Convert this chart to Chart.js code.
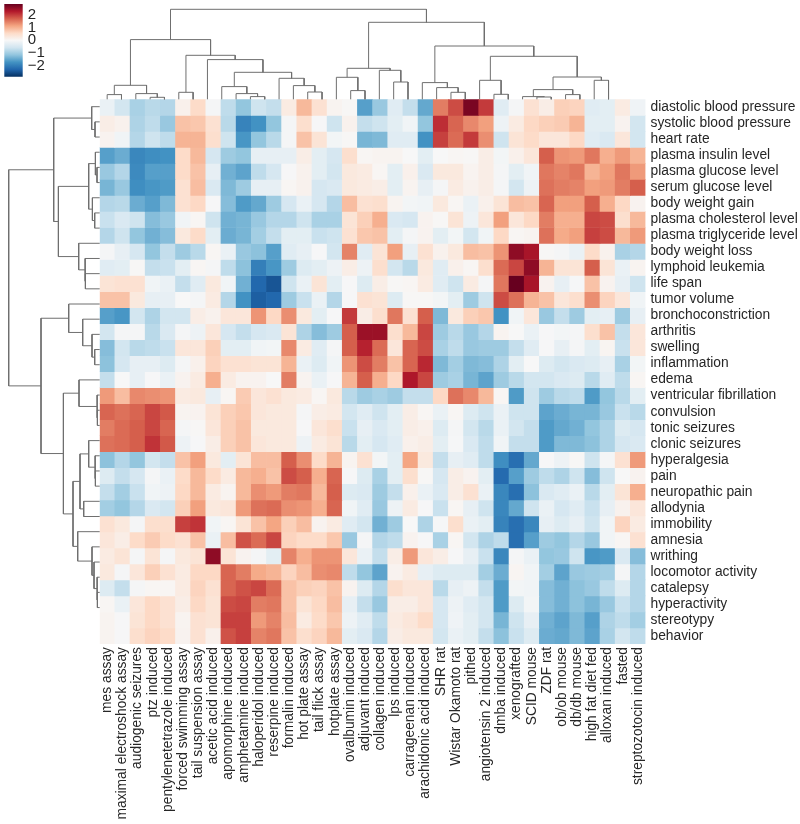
<!DOCTYPE html>
<html lang="en">
<head>
  <meta charset="UTF-8" />
  <title>Clustermap</title>
  <script src="https://cdn.jsdelivr.net/npm/chart.js"></script>
  <style>
    html, body { margin: 0; background: #fff; }
    #wrap { position: relative; width: 800px; height: 824px; overflow: hidden; }
    canvas { position: absolute; left: 0; top: 0; }
  </style>
</head>
<body>
  <div id="wrap">
    <canvas id="heat" width="800" height="824"></canvas>
    <canvas id="topTree" width="800" height="100"></canvas>
    <canvas id="leftTree" width="100" height="824"></canvas>
    <canvas id="colorbar" width="70" height="90"></canvas>
  </div>

  <script>
    const colLabels = ['mes assay', 'maximal electroshock assay', 'audiogenic seizures', 'ptz induced', 'pentylenetetrazole induced', 'forced swimming assay', 'tail suspension assay', 'acetic acid induced', 'apomorphine induced', 'amphetamine induced', 'haloperidol induced', 'reserpine induced', 'formalin induced', 'hot plate assay', 'tail flick assay', 'hotplate assay', 'ovalbumin induced', 'adjuvant induced', 'collagen induced', 'lps induced', 'carrageenan induced', 'arachidonic acid induced', 'SHR rat', 'Wistar Okamoto rat', 'pithed', 'angiotensin 2 induced', 'dmba induced', 'xenografted', 'SCID mouse', 'ZDF rat', 'ob/ob mouse', 'db/db mouse', 'high fat diet fed', 'alloxan induced', 'fasted', 'streptozotocin induced'];

    const rowLabels = ['diastolic blood pressure', 'systolic blood pressure', 'heart rate', 'plasma insulin level', 'plasma glucose level', 'serum glucose level', 'body weight gain', 'plasma cholesterol level', 'plasma triglyceride level', 'body weight loss', 'lymphoid leukemia', 'life span', 'tumor volume', 'bronchoconstriction', 'arthritis', 'swelling', 'inflammation', 'edema', 'ventricular fibrillation', 'convulsion', 'tonic seizures', 'clonic seizures', 'hyperalgesia', 'pain', 'neuropathic pain', 'allodynia', 'immobility', 'amnesia', 'writhing', 'locomotor activity', 'catalepsy', 'hyperactivity', 'stereotypy', 'behavior'];

    const colorbarTicks = [2, 1, 0, -1, -2];
    const colorLimit = 2.9;

    // one line per row
    const cellValues = [
      [-.2,-.55,-.95,-.8,-.85,.15,.55,-.05,-.75,-1.15,-.6,-.7, .25,.95,.45,.08,.02,-1.6,-1.1,-.35,-.7,-1.5,1.5,1.9, 2.75,2.05,-.35,-.05,.45,.2,.7,.65,-.35,-.3,.25,-.12],
      [.2,.12,-.9,-.75,-1.1,.85,.8,.45,-.8,-1.95,-1.75,-1.15, -.05,.5,-.02,-.6,.12,-.7,-.6,-.3,-.1,-1.15,2.15,1.7, 1.4,1.2,-.15,.25,.6,.7,.75,1,-.3,-.3,.1,-.55],
      [.1,-.1,-.85,-.6,-.75,1,1,.5,-.6,-1.7,-1.15,-.8, -.05,.85,.4,-.08,.03,-1.35,-1.3,-.35,-.35,-1.75,2,1.65, 2.05,1.35,-.6,.4,.55,.35,.35,.6,-.35,-.45,.35,-.55],
      [-1.6,-1.45,-1.9,-1.8,-1.75,.55,.95,-.5,-1.05,-1.15,-.25,-.25, -.25,.2,-.3,-.5,.5,.05,.08,.08,0,-.3,0,.05, .03,.2,-.08,.15,.35,1.75,1.3,1.25,1.55,1.05,1.25,1],
      [-1.1,-.85,-1.85,-1.6,-1.6,.55,.85,-.25,-1.4,-1.55,-.75,-.5, -.02,.12,-.3,-.55,.3,.25,.05,-.3,.15,-.45,.3,.3, .08,.2,-.05,-.3,-.1,1.55,1.45,1.55,1,1.2,1.55,1.25],
      [-1.35,-1.1,-1.8,-1.7,-1.65,.45,.9,-.45,-1.3,-1.05,-.25,-.25, .05,.12,-.5,-.45,.3,.25,.2,-.3,.08,-.25,-.05,.25, .12,.2,-.05,-.55,-.15,1.6,1.5,1.45,1.2,1.25,1.5,1.75],
      [-.85,-.8,-1.45,-1.6,-1.3,.45,.6,-.02,-1.25,-1.65,-1.5,-1.05, -.5,-.2,-.5,-.85,.9,.45,.5,.08,-.08,-.1,.3,.05, -.2,.15,.4,.9,.85,1.7,1.2,1.2,1.75,1.05,.6,.1],
      [-.65,-.45,-.6,-1.25,-1.1,-.1,.05,-.6,-1.4,-1.35,-1.1,-.85, -.85,-.6,-.95,-.95,.4,.7,1.05,-.45,-.5,.1,.03,.4, -.15,.35,1.2,.35,.6,1.5,1.05,1.05,1.95,1.9,.5,.95],
      [-.85,-.6,-1.15,-1.4,-1.25,.3,.55,-.3,-1.45,-1.35,-1,-.7, -.3,-.3,-.65,-.6,.45,.8,.85,-.3,-.05,.1,-.3,-.08, -.55,-.1,.6,.05,.08,1.6,1.1,1.2,2,1.9,.95,1.25],
      [-.05,-.25,-.5,-1.15,-.7,-1.05,-.8,.05,-.2,-1.1,-1.2,-1.6, -.35,-.25,-.02,-.55,1.45,-.35,.4,1.2,-.25,.45,.12,.3, .9,.85,1.3,2.6,2.4,.02,-.05,-.2,.55,.12,-.95,-.85],
      [-.35,-.3,.02,-.7,-.65,-.3,.05,-.05,-.75,-1.2,-2,-1.7, -1.05,-.4,-.3,-.15,.2,-.15,.5,-.55,-.8,.3,-.35,.15, .05,.5,1.65,1.95,2.6,1,.4,.4,1.75,.4,-.2,.08],
      [.4,.45,.45,-.1,-.2,-.7,-.35,.3,-.1,-1.4,-2.3,-2.5, -.6,-.2,.4,-.3,-.02,-.4,.2,.02,.05,.25,-.35,-.6, .25,-.05,1.55,2.9,2.4,.1,-.25,-.03,.85,.1,-.25,-.6],
      [.85,.85,.3,-.25,-.25,0,-.05,.25,-.85,-1.75,-2.4,-2.3, -1.05,-.65,-.2,-.85,-.02,.45,.4,-.4,.02,.02,-.08,-.3, -1.05,-.6,1.9,1.6,1,.85,.35,.5,1.35,.65,.35,-.1],
      [-1.6,-1.7,-.55,-.9,-.55,-.55,.2,.12,.35,.35,1.3,.6, 1.35,.3,-.3,-.02,2.05,.2,.5,1.55,.45,1.75,-1.3,.3, .7,.8,-1.75,-.1,.35,-1.1,-.7,-1.05,-.3,-.25,-1.05,-.25],
      [-.55,-.05,-.05,-.8,-.45,-.05,-.15,.35,-.5,-.7,-.5,-.45, .4,-.9,-1.25,-1.05,1.75,2.5,2.5,.5,.95,1.95,-1.05,-.8, -1.1,-.85,.08,0,-.2,-.02,-.08,-.05,.5,.85,-.7,.35],
      [-1.25,-.55,-.8,-.75,-.65,.35,.35,.7,-.3,-.3,-.1,-.08, 1.4,.25,-.35,-.05,1.75,2.25,1.65,.35,1.7,1.9,-.95,-.75, -1.1,-1.05,-1.05,-.7,-.35,-.02,-.25,-.05,-.3,.07,-.65,.35],
      [-1.2,-.5,-.25,-.25,-.4,-.05,.15,.65,.45,.45,.4,.4, 1,-.2,-.4,-.1,1.3,1.9,1.5,.85,1.7,2.2,-1.3,-1, -1.3,-1.25,-.9,-.3,0,-.4,-.55,-.45,-.4,-.25,-.95,-.08],
      [-.7,0,-.25,-.02,-.2,.1,.25,1.05,.25,.1,.1,0, 1.5,.08,-.2,-.02,1,1.75,1.05,.6,2.35,1.95,-1.05,-.95, -1.35,-1.55,-1.05,-.8,-.55,-.55,-.45,-.4,-.8,-.35,-.75,.05],
      [1.25,.9,1.4,1.35,1.3,.25,.3,-.25,.05,.75,.35,.45, .3,.25,.05,.3,-.8,-1.05,-.95,-1.05,-.7,-.7,.6,1.6, 1.4,.95,.05,-1.65,-.6,-1.05,-.8,-.75,-1.65,-1.15,-.8,-.3],
      [1.7,1.6,1.7,1.95,1.8,.08,.1,.4,.7,.8,.35,.3, .3,-.05,.2,.25,-.55,-.35,-.6,-.3,.2,.05,-.2,.05, -.4,-.6,-.2,-.6,-.6,-1.55,-1.45,-1.35,-1.35,-1.1,-.65,-.8],
      [1.5,1.65,1.75,1.95,1.7,-.05,.02,.35,.7,.85,.3,.3, .3,-.02,.35,.5,-.65,-.25,-.45,-.3,.2,.15,-.4,-.05, -.55,-.8,-.2,-.55,-.7,-1.65,-1.5,-1.4,-1.15,-.9,-.4,-.5],
      [1.6,1.65,1.75,2.1,1.8,-.15,-.02,.2,.7,.85,.35,.3, .3,-.15,.25,.4,-.8,-.3,-.5,-.35,.15,.2,-.3,-.03, -.45,-.75,-.1,-.7,-.7,-1.65,-1.3,-1.3,-1.2,-.9,-.5,-.45],
      [-1.2,-.85,-1.15,-.55,-.7,.85,1.2,.3,-.3,.4,.9,.9, 1.75,1.35,.55,1,.08,.45,-.08,-.3,1.15,.3,-.7,-.25, -.35,-.75,-1.8,-2.2,-1.5,-.02,-.15,.02,-.6,-.05,.45,1.25],
      [-.4,-.7,-.5,-.05,-.2,.55,.95,.55,.25,.95,1.05,.85, 1.9,1.75,1.05,1.7,-.02,-.4,-.95,-.3,.5,.02,-.5,.2, .1,-.3,-2.25,-1.6,-1.05,-.75,-.9,-.6,-1.25,-.6,0,.1],
      [-.7,-1,-.65,-.1,-.15,.6,.95,.25,.08,.95,1.35,1.25, 1.5,1.55,.95,1.75,-.4,-.45,-1.05,-.7,.15,-.2,-.45,.2, .45,-.2,-1.9,-2.2,-1.2,-.45,-.35,-.2,-.8,-.3,.4,1.05],
      [-1,-1.15,-.85,-.45,-.55,.7,1.2,.3,.35,1.25,1.6,1.65, 1.35,1.3,1.05,1.7,-.1,-.35,-1.1,-.15,.25,-.02,-.65,.05, -.25,-.6,-1.9,-1.5,-.6,-.2,-.5,-.35,-.65,-.25,.12,.35],
      [.45,.3,-.05,.5,.5,2,2.1,-.1,.05,.4,.85,1.15, .7,.9,.1,.25,-.35,-.55,-1.4,-1.05,0,-.9,-.03,.5, -.2,-.3,-1.95,-2.2,-1.9,-.25,-.4,-.25,-.6,-.1,.65,.25],
      [.35,.2,.55,.75,.55,.45,.85,-.2,.9,1.85,1.65,1.95, .65,.55,.55,.8,-1.1,-.05,-.85,-.75,.1,-.02,-.95,.05, -.55,-.9,-.75,-2.2,-1.6,-1.05,-1.15,-.85,-1.1,-.1,.05,.45],
      [.25,.4,-.05,.4,-.05,.3,.4,2.6,.4,.1,-.05,-.3, 1.45,1.05,1.3,1.3,.35,-.2,-.7,.2,1.25,.35,.2,-.02, -.25,-.65,-1.9,-.05,-.2,-1.15,-1.1,-.6,-1.7,-1.65,-.45,-1.25],
      [.3,-.05,.35,.7,.45,.25,.6,.6,1.7,1.5,1.1,1, .65,.9,1.35,1.4,-.75,-1.15,-1.55,.1,.25,-.25,-.4,-.4, -.4,-1,-1.45,.06,-.1,-1,-1.55,-1.1,-1.05,-1,-.05,-.85],
      [-.4,-.7,-.05,.05,.05,.25,.65,.45,1.7,1.85,1.95,1.65, .85,.7,.65,.85,.1,-.4,-.85,.5,.35,.35,-.8,-.25, -.15,-.7,-1.65,-.08,-.1,-1.25,-1.4,-1.2,-1.1,-.75,-.4,-.85],
      [.05,-.2,.35,.6,.45,.2,.6,.4,1.9,1.95,1.5,1.55, .85,.4,.6,.9,-.25,-.7,-1.1,.2,.2,.35,-.5,-.15, -.35,-.55,-1.65,-.4,-.08,-1.25,-1.4,-1.2,-1.35,-1.1,-.65,-.85],
      [.08,-.02,.4,.6,.45,.08,.45,.4,2,2,1.25,1.45, .9,.25,.55,.8,-.15,-.35,-.75,.25,.35,.55,-.5,-.12, -.3,-.55,-1.35,-.6,-.25,-1.4,-1.55,-1.3,-1.6,-.9,-.75,-1],
      [.08,-.02,.5,.65,.55,.1,.45,.15,1.85,2,1.45,1.55, .85,.5,.65,.95,-.3,-.45,-.85,.2,.3,.3,-.55,-.2, -.3,-.7,-1.2,-.65,-.4,-1.45,-1.5,-1.3,-1.55,-.95,-.55,-.75]
    ];

    // dendrograms as nested [left, right, height]; a bare number is a leaf index
    const colTree = [
      [[[0, 1, 4.7], [2, [3, 4, 2], 5.7], 14],
       [[5, 6, 7],
        [7,
         [[8, [9, [10, 11, 2.7], 5.7], 12.7],
          [12, [13, [14, 15, 7.3], 13.7], 21], 27],
         39.7], 44], 59.7],
      [[[16, [17, 18, 8.7], 22], [19, [20, 21, 17.3], 29], 31],
       [[22, [23, [24, 25, 7], 11.7], 16.7],
        [[26, [27, 28, 5], 19],
         [[[29, [30, 31, 2.3], 2.7], [32, 33, 4.7], 9.7], [34, 35, 19], 22.3],
         43], 53.3],
       77],
      90
    ];

    const rowTree = [
      [[0, [1, 2, 4.7], 8],
       [[[3, [4, 5, 2.7], 4.3], [6, [7, 8, 5], 7.3], 11],
        [9, [10, [11, 12, 14.3], 14.7], 21], 41.3],
       46],
      [[13, [14, [15, [16, 17, 5], 7.7], 17], 31],
       [[18, [19, [20, 21, 2.3], 2.7], 20.7],
        [[[22, [23, [24, 25, 4.3], 4.7], 11], [26, 27, 16], 19.7],
         [28, [29, [30, [31, [32, 33, 2.3], 2.7], 5.7], 7.7], 22], 26.7],
        36.3],
       58.7],
      91
    ];

    // the trees stop short of the heatmap's far edge in the reference,
    // so their leaf axes run past the leaf count
    const colTreeSpan = 38.08;
    const rowTreeSpan = 35.9;

    // RdBu_r
    const palette = ['#053061', '#2166ac', '#4393c3', '#92c5de', '#d1e5f0', '#f7f7f7', '#fddbc7', '#f4a582', '#d6604d', '#b2182b', '#67001f'];

    function hexToRgb(h) {
      return [1, 3, 5].map(i => parseInt(h.slice(i, i + 2), 16));
    }

    function cellColor(v) {
      const t = Math.min(Math.max((v + colorLimit) / (2 * colorLimit), 0), 1) * (palette.length - 1);
      const i = Math.min(Math.floor(t), palette.length - 2);
      const a = hexToRgb(palette[i]), b = hexToRgb(palette[i + 1]);
      const c = a.map((x, k) => Math.round(x + (b[k] - x) * (t - i)));
      return `rgb(${c[0]},${c[1]},${c[2]})`;
    }

    const textColor = '#262626';
    const labelFont = { family: "'Liberation Sans', Arial, sans-serif", size: 13.8 };
    const treeColor = '#6f6f6f';

    // Heatmap: stacked unit bars, one dataset per row
    new Chart(document.getElementById('heat'), {
      type: 'bar',
      data: {
        labels: colLabels,
        datasets: rowLabels.map((name, r) => ({
          label: name,
          data: colLabels.map(() => 1),
          backgroundColor: cellValues[r].map(cellColor),
          barPercentage: 1,
          categoryPercentage: 1,
          borderWidth: 0
        }))
      },
      options: {
        responsive: false,
        animation: false,
        devicePixelRatio: 1,
        layout: { padding: { left: 99.7, top: 99.3, right: 0, bottom: 0 } },
        plugins: { legend: { display: false }, tooltip: { enabled: false } },
        scales: {
          x: {
            stacked: true,
            grid: { display: false, drawTicks: false },
            border: { display: false },
            ticks: { autoSkip: false, minRotation: 90, maxRotation: 90, padding: 3, color: textColor, font: labelFont },
            afterFit: s => { s.height = 180; }
          },
          y: { stacked: true, display: false, min: 0, max: rowLabels.length, reverse: true },
          rows: {
            type: 'category',
            labels: rowLabels,
            position: 'right',
            offset: true,
            grid: { display: false, drawTicks: false },
            border: { display: false },
            ticks: { autoSkip: false, padding: 5, color: textColor, font: labelFont },
            afterFit: s => { s.width = 154.5; }
          }
        }
      }
    });

    // Turn a nested tree into one 4-point polyline per merge
    function treeLinks(node, links) {
      if (typeof node === 'number') return { pos: node + 0.5, h: 0 };
      const l = treeLinks(node[0], links);
      const r = treeLinks(node[1], links);
      links.push([[l.pos, l.h], [l.pos, node[2]], [r.pos, node[2]], [r.pos, r.h]]);
      return { pos: (l.pos + r.pos) / 2, h: node[2] };
    }

    function treeDatasets(tree, toPoint) {
      const links = [];
      treeLinks(tree, links);
      return links.map(link => ({
        data: link.map(toPoint),
        showLine: true,
        pointRadius: 0,
        borderColor: treeColor,
        borderWidth: 1,
        tension: 0,
        clip: false
      }));
    }

    new Chart(document.getElementById('topTree'), {
      type: 'scatter',
      data: { datasets: treeDatasets(colTree, p => ({ x: p[0], y: p[1] })) },
      options: {
        responsive: false,
        animation: false,
        devicePixelRatio: 1,
        layout: { padding: { left: 100, right: 154.5, top: 0, bottom: 0.7 } },
        plugins: { legend: { display: false }, tooltip: { enabled: false } },
        scales: {
          x: { display: false, min: 0, max: colTreeSpan },
          y: { display: false, min: 0, max: 99.3 }
        }
      }
    });

    new Chart(document.getElementById('leftTree'), {
      type: 'scatter',
      data: { datasets: treeDatasets(rowTree, p => ({ x: p[1], y: p[0] })) },
      options: {
        responsive: false,
        animation: false,
        devicePixelRatio: 1,
        layout: { padding: { left: 0, right: 0.3, top: 99.1, bottom: 180 } },
        plugins: { legend: { display: false }, tooltip: { enabled: false } },
        scales: {
          x: { display: false, min: 0, max: 99.7, reverse: true },
          y: { display: false, min: 0, max: rowTreeSpan, reverse: true }
        }
      }
    });

    // Colour bar: one floating bar filled with the palette as a gradient
    function colorbarFill(ctx) {
      const chart = ctx.chart;
      if (!chart.chartArea) return palette[5];
      const g = chart.ctx.createLinearGradient(0, chart.chartArea.bottom, 0, chart.chartArea.top);
      palette.forEach((c, i) => g.addColorStop(i / (palette.length - 1), c));
      return g;
    }

    new Chart(document.getElementById('colorbar'), {
      type: 'bar',
      data: {
        labels: [''],
        datasets: [{
          data: [[-colorLimit, colorLimit]],
          backgroundColor: colorbarFill,
          barPercentage: 1,
          categoryPercentage: 1,
          borderWidth: 0
        }]
      },
      options: {
        responsive: false,
        animation: false,
        devicePixelRatio: 1,
        layout: { padding: { left: 4.3, top: 4, right: 0, bottom: 13.3 } },
        plugins: { legend: { display: false }, tooltip: { enabled: false } },
        scales: {
          x: { display: false },
          y: {
            position: 'right',
            min: -colorLimit,
            max: colorLimit,
            grid: { display: false, drawTicks: false },
            border: { display: false },
            afterBuildTicks: s => { s.ticks = colorbarTicks.map(value => ({ value })); },
            ticks: {
              autoSkip: false,
              includeBounds: false,
              padding: 5,
              color: textColor,
              font: { family: labelFont.family, size: 15 },
              callback: v => String(v).replace('-', '\u2212')
            },
            afterFit: s => { s.width = 47.3; s.paddingTop = 0; s.paddingBottom = 0; }
          }
        }
      }
    });
  </script>
</body>
</html>
